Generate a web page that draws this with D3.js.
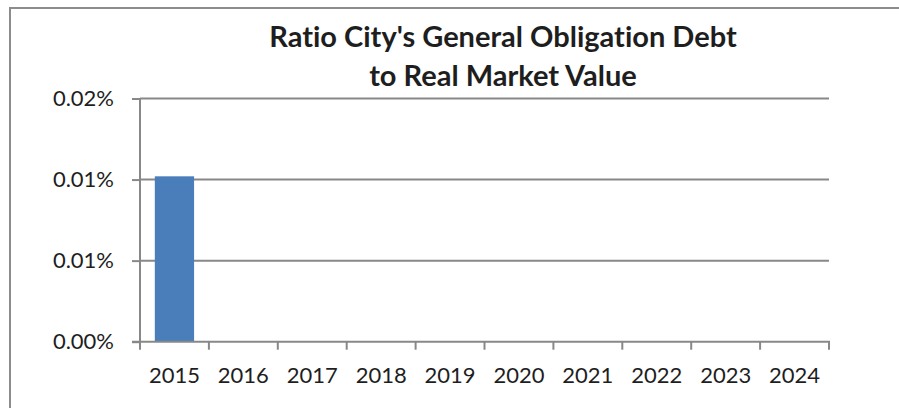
<!DOCTYPE html>
<html>
<head>
<meta charset="utf-8">
<script src="https://cdn.jsdelivr.net/npm/d3@7"></script>
<style>
  html, body { margin: 0; padding: 0; background: #fff; }
  svg { display: block; font-family: Lato, "Open Sans", sans-serif; font-variant-ligatures: none; font-feature-settings: "liga" 0, "clig" 0; }
</style>
</head>
<body>
<svg id="chart" width="899" height="408"></svg>
<script>
// Fiscal years on the category axis
const years = ["2015", "2016", "2017", "2018", "2019", "2020", "2021", "2022", "2023", "2024"];
// Ratio of general obligation debt to real market value, in percent (null = no data)
const ratioPct = [0.0102, null, null, null, null, null, null, null, null, null];
// Value axis ticks (percent) and their printed labels
const yTicks = [0, 0.005, 0.01, 0.015];
const yTickLabels = ["0.00%", "0.01%", "0.01%", "0.02%"];
const titleLines = ["Ratio City's General Obligation Debt", "to Real Market Value"];

const W = 899, H = 408;
const plot = { left: 140, right: 829, top: 98.5, bottom: 341.7 };
const gridColor = "#888888";
const textColor = "#1e1e1e";

const svg = d3.select("#chart");

// chart frame
svg.append("rect")
  .attr("x", 10).attr("y", 8)
  .attr("width", W + 20).attr("height", H + 20)
  .attr("fill", "#fff")
  .attr("stroke", "#8c8c8c")
  .attr("stroke-width", 2);

const x = d3.scaleBand()
  .domain(years)
  .range([plot.left, plot.right])
  .paddingInner(0.43)
  .paddingOuter(0.215);

const xCat = d3.scaleBand()
  .domain(years)
  .range([plot.left, plot.right]);

const y = d3.scaleLinear()
  .domain([0, 0.015])
  .range([plot.bottom, plot.top]);

// horizontal gridlines
svg.append("g")
  .selectAll("line")
  .data(yTicks.filter(d => d > 0))
  .join("line")
  .attr("x1", plot.left).attr("x2", plot.right)
  .attr("y1", d => y(d)).attr("y2", d => y(d))
  .attr("stroke", gridColor)
  .attr("stroke-width", 2);

// bars
svg.append("g")
  .selectAll("rect")
  .data(years.map((yr, i) => ({ yr, v: ratioPct[i] })).filter(d => d.v != null))
  .join("rect")
  .attr("x", d => x(d.yr))
  .attr("width", x.bandwidth())
  .attr("y", d => y(d.v))
  .attr("height", d => y(0) - y(d.v))
  .attr("fill", "#4a7ebb");

// value axis
const yAxis = svg.append("g")
  .attr("transform", `translate(${plot.left},0)`)
  .call(d3.axisLeft(y)
    .tickValues(yTicks)
    .tickFormat((d, i) => yTickLabels[i])
    .tickSize(8)
    .tickPadding(18));
yAxis.select(".domain").attr("stroke", gridColor).attr("stroke-width", 2)
  .attr("d", `M0,${plot.bottom + 1}V${plot.top}`);
yAxis.selectAll(".tick line").attr("stroke", gridColor).attr("stroke-width", 2);
yAxis.selectAll(".tick text")
  .attr("fill", textColor)
  .style("font-family", "Lato, 'Open Sans', sans-serif")
  .style("font-size", "22px");

// category axis with ticks on band boundaries
const xAxisG = svg.append("g")
  .attr("transform", `translate(0,${plot.bottom})`);
xAxisG.append("line")
  .attr("x1", plot.left - 8).attr("x2", plot.right + 1)
  .attr("stroke", gridColor).attr("stroke-width", 2);
const boundaries = years.map(d => xCat(d)).concat([xCat(years[years.length - 1]) + xCat.bandwidth()]);
xAxisG.selectAll("line.tk")
  .data(boundaries)
  .join("line")
  .attr("class", "tk")
  .attr("x1", d => d).attr("x2", d => d)
  .attr("y1", 0).attr("y2", 8)
  .attr("stroke", gridColor).attr("stroke-width", 2);
xAxisG.selectAll("text")
  .data(years)
  .join("text")
  .attr("x", d => xCat(d) + xCat.bandwidth() / 2)
  .attr("y", 41)
  .attr("text-anchor", "middle")
  .attr("fill", textColor)
  .style("font-size", "22px")
  .text(d => d);

// title
svg.append("text")
  .attr("text-anchor", "middle")
  .attr("fill", textColor)
  .style("font-size", "29px")
  .style("font-weight", "bold")
  .selectAll("tspan")
  .data(titleLines)
  .join("tspan")
  .attr("x", 503)
  .attr("y", (d, i) => 47 + i * 39)
  .text(d => d);
</script>
</body>
</html>
